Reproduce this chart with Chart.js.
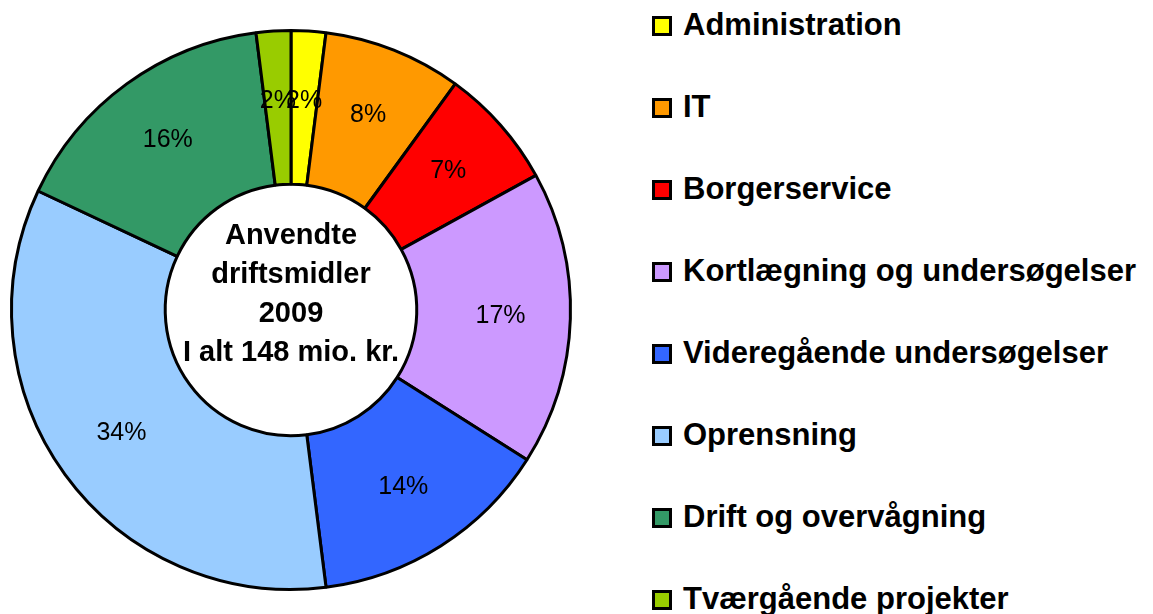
<!DOCTYPE html>
<html>
<head>
<meta charset="utf-8">
<script src="https://cdn.jsdelivr.net/npm/chart.js@4"></script>
<style>
html,body{margin:0;padding:0;background:#fff;overflow:hidden;width:1153px;height:614px;}
#wrap{position:absolute;left:0;top:0;width:582px;height:620px;}
#legend{position:absolute;left:652px;top:0;font-family:"Liberation Sans",Arial,sans-serif;font-weight:bold;font-size:31px;color:#000;}
.item{position:absolute;left:0;white-space:nowrap;height:30px;line-height:30px;}
.box{position:absolute;left:0;top:5px;width:14px;height:14px;border:3px solid #000;}
.txt{position:absolute;left:31px;top:-1px;}
</style>
</head>
<body>
<div id="wrap"><canvas id="c"></canvas></div>
<div id="legend"></div>
<script>
const categories = ["Administration","IT","Borgerservice","Kortlægning og undersøgelser","Videregående undersøgelser","Oprensning","Drift og overvågning","Tværgående projekter"];
const values = [2, 8, 7, 17, 14, 34, 16, 2];
const colors = ["#FFFF00","#FF9900","#FF0000","#CC99FF","#3366FF","#99CCFF","#339966","#99CC00"];
const centerLines = ["Anvendte","driftsmidler","2009","I alt 148 mio. kr."];

// legend
const leg = document.getElementById('legend');
categories.forEach((c,i)=>{
  const d = document.createElement('div');
  d.className='item';
  d.style.top = (11 + i*82) + 'px';
  d.innerHTML = '<span class="box" style="background:'+colors[i]+'"></span><span class="txt">'+c+'</span>';
  leg.appendChild(d);
});

const labelPlugin = {
  id:'labels',
  afterDatasetsDraw(chart){
    const ctx = chart.ctx;
    const meta = chart.getDatasetMeta(0);
    ctx.save();
    ctx.fillStyle = '#000';
    ctx.textAlign='center';
    ctx.textBaseline='middle';
    ctx.font = '25px "Liberation Sans", Arial, sans-serif';
    meta.data.forEach((arc,i)=>{
      const pr = arc.getProps(['x','y','startAngle','endAngle','innerRadius','outerRadius']);
      const mid = (pr.startAngle + pr.endAngle)/2;
      const r = (pr.innerRadius + pr.outerRadius)/2 + 7;
      ctx.fillText(values[i]+'%', pr.x + Math.cos(mid)*r, pr.y + Math.sin(mid)*r);
    });
    const cx = meta.data[0].x, cy = meta.data[0].y;
    ctx.font = 'bold 29px "Liberation Sans", Arial, sans-serif';
    centerLines.forEach((l,i)=>{
      ctx.fillText(l, cx, cy - 74 + i*39);
    });
    ctx.restore();
  }
};

new Chart(document.getElementById('c'), {
  type:'doughnut',
  data:{labels:categories, datasets:[{data:values, backgroundColor:colors, borderColor:'#000', borderWidth:3}]},
  options:{
    responsive:true, maintainAspectRatio:false, animation:false,
    cutout:'45%',
    layout:{padding:{left:10,right:10,top:10,bottom:10}},
    plugins:{legend:{display:false}, tooltip:{enabled:false}}
  },
  plugins:[labelPlugin]
});
</script>
</body>
</html>
